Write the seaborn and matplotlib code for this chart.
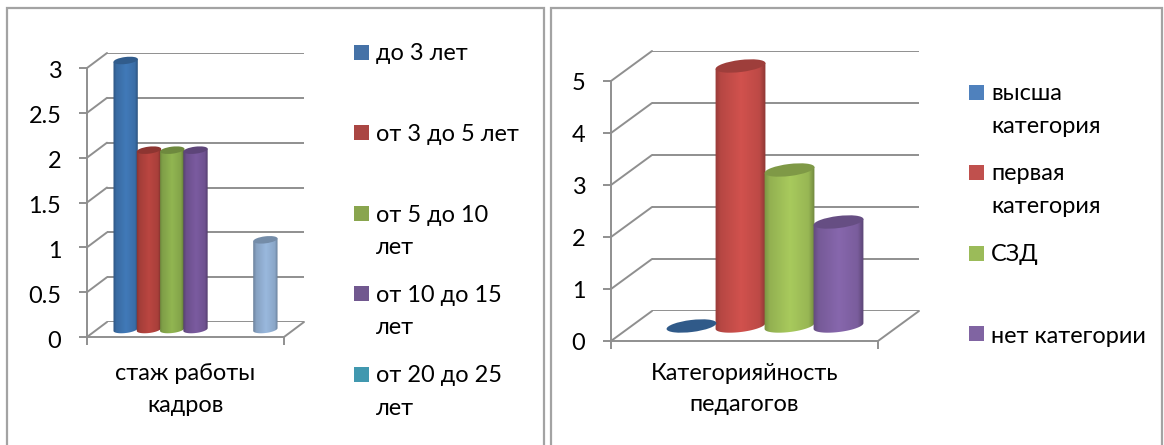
import numpy as np
import pandas as pd
import matplotlib
matplotlib.use("Agg")
import matplotlib.pyplot as plt
import seaborn as sns
from matplotlib.colors import to_rgb
from matplotlib.lines import Line2D
from matplotlib.patches import Ellipse, Rectangle
from matplotlib.path import Path
from matplotlib.transforms import IdentityTransform, ScaledTranslation

# data
stazh_series = ["до 3 лет", "от 3 до 5 лет", "от 5 до 10 лет", "от 10 до 15 лет",
                "от 20 до 25 лет", "ряд 6", "ряд 7"]
stazh_values = [3, 2, 2, 2, np.nan, np.nan, 1]
stazh_colors = ["#3F76B3", "#B5443F", "#8DB04F", "#77589B", "#4198AF", "#DB843D", "#95B3D7"]
stazh_ticks = [0, 0.5, 1, 1.5, 2, 2.5, 3]
stazh_ticklabels = ["0", "0.5", "1", "1.5", "2", "2.5", "3"]

kat_series = ["высша категория", "первая категория", "СЗД", "нет категории"]
kat_values = [0, 5, 3, 2]
kat_colors = ["#3E73B0", "#CB4F4B", "#A3C45A", "#8364A8"]
kat_ticks = [0, 1, 2, 3, 4, 5]

W, H = 1164, 445
GREY = "#8F8F8F"
FS = 16.9

sns.set_theme(style="white")
plt.rcParams["font.family"] = ["Lato", "Open Sans", "DejaVu Sans"]

fig = plt.figure(figsize=(W / 100, H / 100), dpi=100, facecolor="white")


def px_axes(x0, x1, ybottom, ytop, zorder):
    # pixel box (top-left origin) to a figure axes
    a = fig.add_axes([x0 / W, 1 - ybottom / H, (x1 - x0) / W, (ybottom - ytop) / H], zorder=zorder)
    a.patch.set_alpha(0)
    return a


def cylinder(ax, bar, color, cap_h):
    # turn one seaborn bar into a shaded cylinder, tilted like the office 3d look
    x0, w, val = bar.get_x(), bar.get_width(), bar.get_height()
    (px0, py0), (px1, py1) = ax.transData.transform([(x0, 0), (x0 + w, val)])
    cx = (px0 + px1) / 2
    a, b, tilt = (px1 - px0) / 2 + 0.6, cap_h / 2, np.radians(7)
    rgb = np.array(to_rgb(color))
    bar.set_visible(False)
    if val > 0:
        t = np.linspace(np.pi, 2 * np.pi, 40)
        ex = a * np.cos(t) * np.cos(tilt) - b * np.sin(t) * np.sin(tilt)
        ey = a * np.cos(t) * np.sin(tilt) + b * np.sin(t) * np.cos(tilt)
        verts = list(zip(cx + ex, py0 + ey)) + [(cx + ex[-1], py1 + ey[-1]), (cx + ex[0], py1 + ey[0])]
        verts.append(verts[0])
        clip = Path(verts)
        stops = np.interp(np.linspace(0, 1, 64), [0, 0.12, 0.5, 0.85, 1], [0.72, 0.9, 1.03, 0.93, 0.62])
        img = np.clip(stops[None, :, None] * rgb[None, None, :], 0, 1)
        pad = w * 0.05
        im = ax.imshow(img, extent=[x0 - pad, x0 + w + pad, -0.2 * val, val * 1.05], aspect="auto", zorder=3)
        im.set_clip_path(clip, transform=IdentityTransform())
        im.set_clip_box(fig.bbox)
    ax.add_artist(Ellipse((cx, py1), 2 * a, 2 * b, angle=7, transform=IdentityTransform(),
                          facecolor=rgb * 0.78, edgecolor="none", zorder=4, clip_on=False))


def chart(front, depth, ticks, ticklabels, series, values, colors, group_w, cap_h, xlabel,
          labelpad, spacing, label_shift):
    # front = (x0, x1, y0, ytop) of the front plane, depth = (dx, dy) to the back wall
    x0, x1, y0, ytop = front
    dx, dy = depth
    top = max(ticks)

    ax_back = px_axes(x0 + dx, x1 + dx, y0 - dy, ytop - dy, 1)
    ax_back.set_ylim(0, top)
    ax_back.set_yticks(ticks)
    ax_back.set_xticks([])
    ax_back.tick_params(left=False, labelleft=False)
    ax_back.yaxis.grid(True, color=GREY, lw=1.4)
    ax_back.set_axisbelow(True)
    sns.despine(ax=ax_back, left=True, bottom=True)

    ax_front = px_axes(x0, x1, y0, ytop, 5)
    ax_front.set_ylim(0, top)
    ax_front.set_xlim(0, 1)
    ax_front.set_yticks(ticks)
    ax_front.set_yticklabels(ticklabels)
    ax_front.set_xticks([0, 1])
    ax_front.set_xticklabels(["", ""])
    ax_front.tick_params(axis="both", length=5.5, width=1.4, color=GREY, bottom=True, left=True,
                         labelcolor="black", labelsize=FS, pad=13)
    shift = ScaledTranslation(0, -label_shift / 100, fig.dpi_scale_trans)
    for lab in ax_front.get_yticklabels():
        lab.set_transform(lab.get_transform() + shift)
    ax_front.set_xlabel(xlabel, fontsize=FS, color="black", labelpad=labelpad, linespacing=spacing)
    sns.despine(ax=ax_front)
    for s in ["left", "bottom"]:
        ax_front.spines[s].set_color(GREY)
        ax_front.spines[s].set_linewidth(1.4)

    # bars sit half way into the depth
    ax_bar = px_axes(x0 + dx / 2, x1 + dx / 2, y0 - dy / 2, ytop - dy / 2, 3)
    df = pd.DataFrame({"group": "a", "series": series, "value": values})
    sns.barplot(data=df, x="group", y="value", hue="series", hue_order=series,
                palette=dict(zip(series, colors)), width=group_w, gap=0, legend=False,
                saturation=1, ax=ax_bar)
    ax_bar.set_xlim(-0.5, 0.5)
    ax_bar.set_ylim(0, top)
    ax_bar.axis("off")
    for bar in list(ax_bar.patches):
        if np.isfinite(bar.get_height()):
            cylinder(ax_bar, bar, bar.get_facecolor(), cap_h)
    ax_bar.set_xlim(-0.5, 0.5)
    ax_bar.set_ylim(0, top)

    # diagonals joining the front axis and the back wall
    for v in ticks:
        p0 = ax_front.transData.transform((0, v))
        p1 = ax_back.transData.transform((ax_back.get_xlim()[0], v))
        fig.add_artist(Line2D([p0[0], p1[0]], [p0[1], p1[1]], color=GREY, lw=1.4,
                              transform=IdentityTransform(), zorder=2))
    p0 = ax_front.transData.transform((1, 0))
    p1 = ax_back.transData.transform((ax_back.get_xlim()[1], 0))
    fig.add_artist(Line2D([p0[0], p1[0]], [p0[1], p1[1]], color=GREY, lw=1.4,
                          transform=IdentityTransform(), zorder=2))


chart((87, 284, 337, 68), (20, 15), stazh_ticks, stazh_ticklabels, stazh_series, stazh_values,
      stazh_colors, 163 / 197, 7, "стаж работы\nкадров", 0, 1.69, 2)
chart((611, 878, 341, 81), (41, 30), kat_ticks, [str(t) for t in kat_ticks], kat_series, kat_values,
      kat_colors, 196 / 267, 12, "Категорияйность\nпедагогов", -3, 1.6, 0)

# page layer for panel frames and the legends, in image pixels
page = fig.add_axes([0, 0, 1, 1], zorder=0)
page.set_xlim(0, W)
page.set_ylim(H, 0)
page.axis("off")
for xs, ys in [([7, 7, 544, 544], [H, 8, 8, H]), ([551, 551, 1162, 1162], [H, 8, 8, H])]:
    page.plot(xs, ys, color="#A3A3A3", lw=1.6, solid_joinstyle="miter")

leg = fig.add_axes([0, 0, 1, 1], zorder=6)
leg.set_xlim(0, W)
leg.set_ylim(H, 0)
leg.axis("off")


def legend_entry(x, y_square, color, lines, baselines, text_x):
    leg.add_patch(Rectangle((x, y_square), 15, 15, facecolor=color, edgecolor="none"))
    for line, base in zip(lines, baselines):
        leg.text(text_x, base, line, fontsize=FS, color="black", va="baseline", ha="left")


legend_entry(354, 45, "#4572A7", ["до 3 лет"], [60], 376)
legend_entry(354, 125, "#AA4643", ["от 3 до 5 лет"], [141], 376)
legend_entry(354, 206, "#89A54E", ["от 5 до 10", "лет"], [222, 254], 376)
legend_entry(354, 286, "#71588F", ["от 10 до 15", "лет"], [302, 334], 376)
legend_entry(354, 367, "#4198AF", ["от 20 до 25", "лет"], [382, 415], 376)

legend_entry(969, 85, "#4F81BD", ["высша", "категория"], [100, 133], 991)
legend_entry(969, 165, "#C0504D", ["первая", "категория"], [180, 213], 991)
legend_entry(969, 246, "#9BBB59", ["СЗД"], [261], 991)
legend_entry(969, 326, "#8064A2", ["нет категории"], [343], 991)

fig.savefig("out.png", dpi=100, facecolor="white")
